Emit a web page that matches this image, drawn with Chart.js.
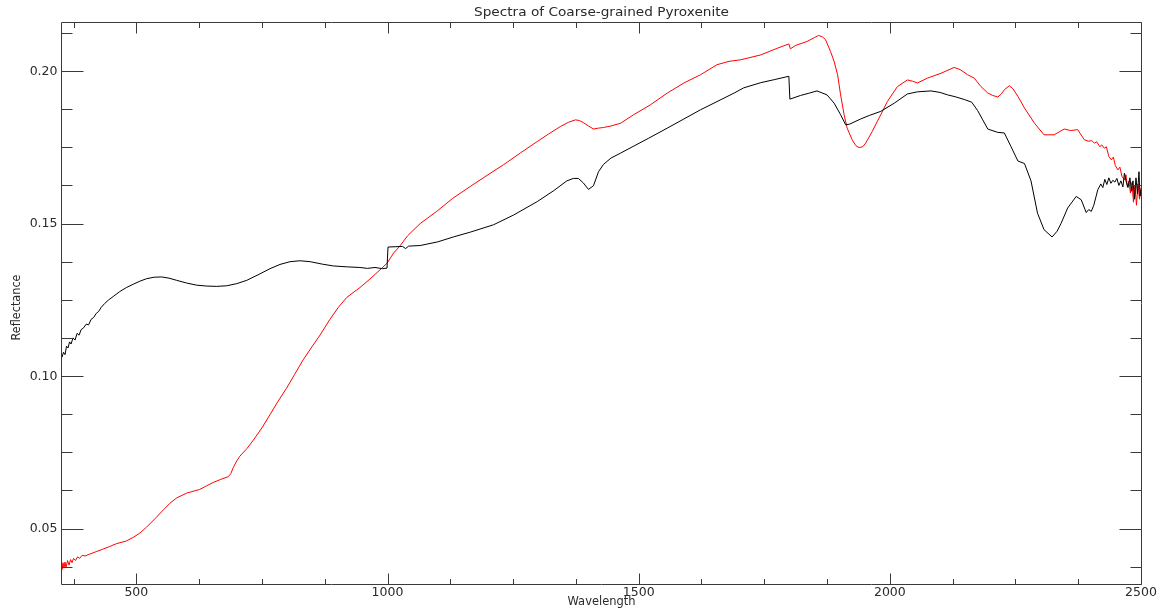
<!DOCTYPE html>
<html>
<head>
<meta charset="utf-8">
<script src="https://cdn.jsdelivr.net/npm/chart.js@4.4.1/dist/chart.umd.min.js"></script>
<style>
  html, body { margin: 0; padding: 0; background: #ffffff; }
  canvas { display: block; }
</style>
</head>
<body>
<canvas id="spectra" width="1157" height="609"></canvas>
<script>
// Text and axis labelling
const chartTitle = 'Spectra of Coarse-grained Pyroxenite';
const xAxisTitle = 'Wavelength';
const yAxisTitle = 'Reflectance';
const xTickLabels = [500, 1000, 1500, 2000, 2500];
const yTickLabels = [0.05, 0.10, 0.15, 0.20];
const xRange = [350, 2500];
const yRange = [0.0318, 0.2161];

// Black spectrum (wavelength in nm, reflectance)
const blackWavelength = [
  350, 352, 355, 358, 361, 364, 367, 370, 374, 378, 382, 386, 390, 395, 400, 405, 410, 415, 420, 425,
  430, 437, 445, 455, 467, 480, 495, 507, 520, 535, 550, 565, 580, 600, 620, 640, 660, 680, 700, 720,
  746, 766, 786, 806, 826, 846, 870, 892, 920, 945, 960, 975, 990, 999, 1001, 1015, 1030, 1036, 1042, 1065,
  1100, 1131, 1165, 1211, 1251, 1298, 1331, 1357, 1370, 1380, 1390, 1400, 1410, 1420, 1430, 1445, 1464, 1489, 1520, 1557,
  1590, 1623, 1656, 1690, 1709, 1743, 1770, 1799, 1801, 1822, 1840, 1855, 1875, 1889, 1902, 1912, 1920, 1942, 1960, 1982,
  2009, 2035, 2055, 2082, 2100, 2115, 2130, 2148, 2163, 2175, 2185, 2195, 2215, 2228, 2241, 2255, 2268, 2281, 2294, 2307,
  2323, 2333, 2341, 2354, 2371, 2381, 2391, 2396, 2401, 2406, 2414, 2420, 2424, 2428, 2432, 2436, 2440, 2444, 2448, 2452,
  2456, 2460, 2464, 2467, 2470, 2474, 2478, 2481, 2484, 2487, 2490, 2493, 2496, 2498, 2500
];
const blackReflectance = [
  0.1085, 0.1062, 0.1078, 0.1070, 0.1098, 0.1092, 0.1112, 0.1105, 0.1125, 0.1118, 0.1140, 0.1134, 0.1152, 0.1158, 0.1170, 0.1168, 0.1186, 0.1192, 0.1205, 0.1212,
  0.1225, 0.1238, 0.1250, 0.1262, 0.1277, 0.1290, 0.1302, 0.1311, 0.1319, 0.1324, 0.1325, 0.1321, 0.1314, 0.1305, 0.1298, 0.1295, 0.1294, 0.1296, 0.1303, 0.1314,
  0.1335, 0.1352, 0.1366, 0.1375, 0.1378, 0.1375, 0.1367, 0.1361, 0.1358, 0.1356, 0.1353, 0.1356, 0.1352, 0.1354, 0.1423, 0.1424, 0.1425, 0.1418, 0.1426, 0.1428,
  0.1440, 0.1456, 0.1472, 0.1496, 0.1528, 0.1572, 0.1608, 0.1640, 0.1648, 0.1648, 0.1633, 0.1612, 0.1624, 0.1670, 0.1694, 0.1715, 0.1731, 0.1753, 0.1780, 0.1813,
  0.1843, 0.1873, 0.1900, 0.1928, 0.1945, 0.1962, 0.1972, 0.1983, 0.1908, 0.1920, 0.1928, 0.1935, 0.1922, 0.1895, 0.1857, 0.1824, 0.1826, 0.1843, 0.1855, 0.1868,
  0.1895, 0.1925, 0.1932, 0.1935, 0.1930, 0.1922, 0.1916, 0.1907, 0.1898, 0.1870, 0.1840, 0.1810, 0.1799, 0.1797, 0.1753, 0.1705, 0.1697, 0.1640, 0.1534, 0.1480,
  0.1456, 0.1475, 0.1501, 0.1551, 0.1589, 0.1578, 0.1536, 0.1546, 0.1540, 0.1560, 0.1611, 0.1630, 0.1618, 0.1645, 0.1628, 0.1650, 0.1632, 0.1642, 0.1636, 0.1648,
  0.1625, 0.1640, 0.1620, 0.1665, 0.1640, 0.1618, 0.1650, 0.1606, 0.1640, 0.1580, 0.1650, 0.1598, 0.1670, 0.1590, 0.1612
];

// Red spectrum (wavelength in nm, reflectance)
const redWavelength = [
  350, 352, 354, 356, 358, 360, 363, 366, 369, 372, 375, 379, 383, 387, 392, 398, 407, 420, 433, 447,
  460, 480, 495, 507, 520, 540, 555, 567, 580, 600, 615, 626, 640, 653, 668, 683, 688, 693, 700, 706,
  720, 733, 750, 766, 782, 799, 815, 832, 850, 866, 885, 902, 919, 945, 965, 985, 999, 1012, 1025, 1040,
  1065, 1098, 1130, 1165, 1200, 1231, 1265, 1298, 1320, 1344, 1360, 1374, 1382, 1390, 1400, 1410, 1420, 1430, 1445, 1464,
  1490, 1523, 1557, 1590, 1623, 1656, 1680, 1703, 1743, 1776, 1799, 1802, 1812, 1835, 1850, 1858, 1866, 1872, 1882, 1889,
  1896, 1902, 1909, 1915, 1925, 1932, 1939, 1946, 1952, 1965, 1975, 1982, 1995, 2015, 2035, 2045, 2055, 2075, 2102, 2128,
  2140, 2155, 2168, 2181, 2195, 2205, 2215, 2222, 2228, 2238, 2245, 2255, 2268, 2288, 2307, 2327, 2347, 2360, 2374, 2387,
  2395, 2402, 2407, 2412, 2418, 2422, 2427, 2431, 2436, 2441, 2445, 2449, 2454, 2458, 2462, 2467, 2470, 2473, 2476, 2479,
  2482, 2485, 2488, 2491, 2494, 2497, 2500
];
const redReflectance = [
  0.0381, 0.0365, 0.0388, 0.0370, 0.0390, 0.0372, 0.0395, 0.0380, 0.0398, 0.0388, 0.0402, 0.0395, 0.0407, 0.0402, 0.0412, 0.0410, 0.0416, 0.0424, 0.0432, 0.0441,
  0.0450, 0.0459, 0.0472, 0.0485, 0.0504, 0.0537, 0.0563, 0.0583, 0.0600, 0.0616, 0.0623, 0.0628, 0.0640, 0.0651, 0.0661, 0.0670, 0.0680, 0.0700, 0.0722, 0.0737,
  0.0762, 0.0790, 0.0830, 0.0873, 0.0917, 0.0960, 0.1005, 0.1053, 0.1097, 0.1135, 0.1185, 0.1225, 0.1258, 0.1290, 0.1318, 0.1348, 0.1370, 0.1403, 0.1427, 0.1460,
  0.1500, 0.1540, 0.1583, 0.1622, 0.1660, 0.1693, 0.1732, 0.1769, 0.1793, 0.1818, 0.1832, 0.1840, 0.1838, 0.1831, 0.1820, 0.1810, 0.1813, 0.1815, 0.1820, 0.1829,
  0.1857, 0.1889, 0.1928, 0.1961, 0.1988, 0.2021, 0.2032, 0.2037, 0.2053, 0.2075, 0.2089, 0.2073, 0.2084, 0.2097, 0.2110, 0.2117, 0.2112, 0.2103, 0.2064, 0.2032,
  0.1988, 0.1922, 0.1857, 0.1813, 0.1775, 0.1756, 0.1749, 0.1752, 0.1764, 0.1802, 0.1835, 0.1857, 0.1900, 0.1949, 0.1971, 0.1967, 0.1961, 0.1977, 0.1993, 0.2012,
  0.2005, 0.1988, 0.1977, 0.1950, 0.1928, 0.1920, 0.1915, 0.1925, 0.1939, 0.1952, 0.1942, 0.1917, 0.1879, 0.1829, 0.1791, 0.1791, 0.1810, 0.1805, 0.1808, 0.1775,
  0.1770, 0.1772, 0.1764, 0.1768, 0.1752, 0.1758, 0.1747, 0.1752, 0.1720, 0.1709, 0.1718, 0.1690, 0.1676, 0.1685, 0.1655, 0.1643, 0.1660, 0.1620, 0.1640, 0.1600,
  0.1635, 0.1570, 0.1625, 0.1560, 0.1630, 0.1580, 0.1618
];

function toPoints(xs, ys) {
  return xs.map((w, i) => ({ x: w, y: ys[i] }));
}

// Boxed frame with inward ticks on all four sides, plus titles
const AXIS_COLOR = '#3a3a3a';
const TEXT_COLOR = '#2a2a2a';
const FONT = '"DejaVu Sans", "Liberation Sans", sans-serif';

// Draw text centred at (cx, cy), stretched horizontally to a set width
function fillStretched(ctx, text, cx, cy, width) {
  const natural = ctx.measureText(text).width;
  ctx.save();
  ctx.translate(cx, cy);
  ctx.scale(width / natural, 1);
  ctx.fillText(text, 0, 0);
  ctx.restore();
}

const boxedAxes = {
  id: 'boxedAxes',
  afterDatasetsDraw(chart) {
    const { ctx, chartArea: a, scales } = chart;
    const xs = scales.x, ys = scales.y;
    const L = Math.round(a.left) + 0.5, R = Math.round(a.right) + 0.5;
    const T = Math.round(a.top) + 0.5, B = Math.round(a.bottom) + 0.5;
    ctx.save();
    ctx.strokeStyle = AXIS_COLOR;
    ctx.lineWidth = 1;
    ctx.beginPath();
    ctx.rect(L, T, R - L, B - T);
    ctx.stroke();

    const xMajorStep = xTickLabels[1] - xTickLabels[0];
    const yMajorStep = yTickLabels[1] - yTickLabels[0];
    const seg = (x1, y1, x2, y2) => { ctx.moveTo(x1, y1); ctx.lineTo(x2, y2); };

    ctx.beginPath();
    // x ticks: four minor intervals per major interval
    for (let v = xTickLabels[0] - xMajorStep; v <= xRange[1] + 1e-6; v += xMajorStep / 4) {
      if (v < xRange[0] - 1e-6) continue;
      const major = xTickLabels.some(t => Math.abs(t - v) < 1e-6);
      const len = major ? 11 : 5.5;
      const px = Math.round(xs.getPixelForValue(v)) + 0.5;
      seg(px, B, px, B - len);
      seg(px, T, px, T + len);
    }
    // y ticks
    for (let v = yTickLabels[0] - yMajorStep; v <= yRange[1] + 1e-9; v += yMajorStep / 4) {
      if (v < yRange[0] - 1e-9) continue;
      const major = yTickLabels.some(t => Math.abs(t - v) < 1e-9);
      const len = major ? 22 : 11;
      const py = Math.round(ys.getPixelForValue(v)) + 0.5;
      seg(L, py, L + len, py);
      seg(R, py, R - len, py);
    }
    ctx.stroke();

    ctx.fillStyle = TEXT_COLOR;
    ctx.font = '12.5px ' + FONT;
    ctx.textAlign = 'right';
    ctx.textBaseline = 'middle';
    yTickLabels.forEach(v => {
      ctx.fillText(v.toFixed(2), L - 4, ys.getPixelForValue(v) + 0.5);
    });
    ctx.textAlign = 'center';
    xTickLabels.forEach(v => {
      ctx.fillText(String(v), xs.getPixelForValue(v), B + 8.5);
    });

    ctx.font = '12.5px ' + FONT;
    fillStretched(ctx, chartTitle, (L + R) / 2, 13, 255);
    fillStretched(ctx, xAxisTitle, (L + R) / 2, 602, 68);
    ctx.save();
    ctx.translate(17, (T + B) / 2 + 4);
    ctx.rotate(-Math.PI / 2);
    fillStretched(ctx, yAxisTitle, 0, 0, 66);
    ctx.restore();
    ctx.restore();
  }
};

new Chart(document.getElementById('spectra'), {
  type: 'line',
  data: {
    datasets: [
      {
        label: 'Black spectrum',
        data: toPoints(blackWavelength, blackReflectance),
        borderColor: '#000000',
        borderWidth: 1,
        pointRadius: 0,
        tension: 0,
        fill: false
      },
      {
        label: 'Red spectrum',
        data: toPoints(redWavelength, redReflectance),
        borderColor: '#ff0000',
        borderWidth: 1,
        pointRadius: 0,
        tension: 0,
        fill: false
      }
    ]
  },
  options: {
    responsive: false,
    animation: false,
    devicePixelRatio: 1,
    layout: { padding: { left: 61, right: 16, top: 22, bottom: 25 } },
    plugins: {
      legend: { display: false },
      tooltip: { enabled: false },
      title: { display: false }
    },
    scales: {
      x: { type: 'linear', min: xRange[0], max: xRange[1], display: false },
      y: { type: 'linear', min: yRange[0], max: yRange[1], display: false }
    }
  },
  plugins: [boxedAxes]
});
</script>
</body>
</html>
